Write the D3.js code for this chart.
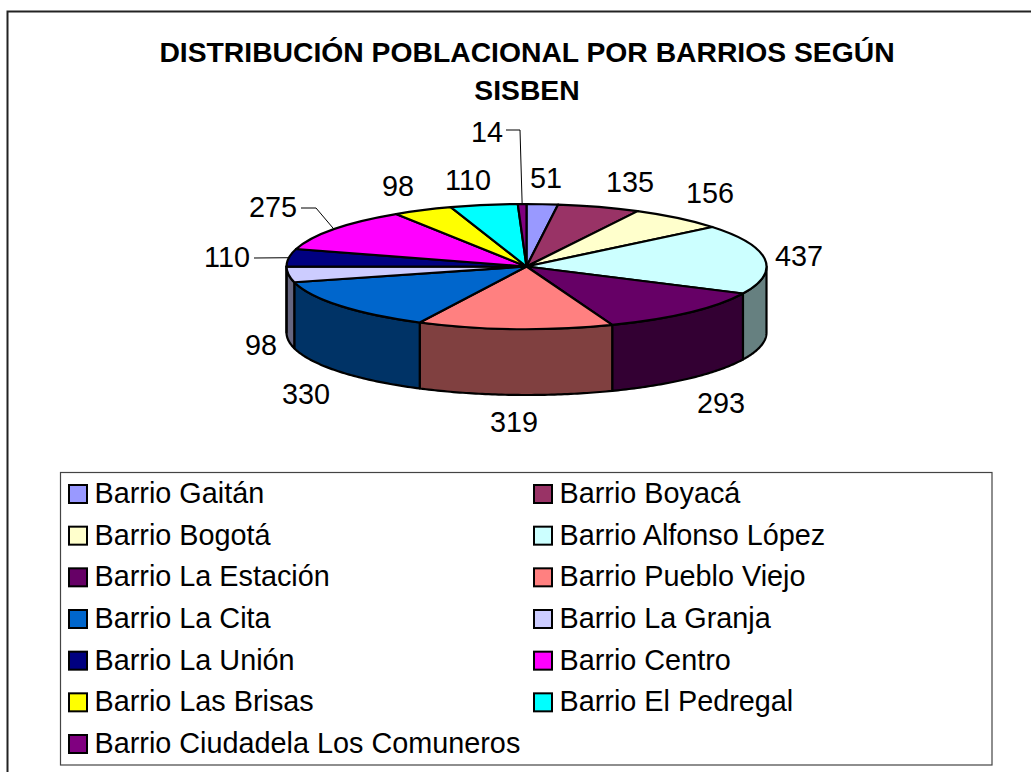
<!DOCTYPE html>
<html><head><meta charset="utf-8">
<script src="https://cdn.jsdelivr.net/npm/d3@7/dist/d3.min.js"></script>
<style>html,body{margin:0;padding:0;background:#fff;overflow:hidden}svg{display:block}text{font-family:"Liberation Sans",Arial,sans-serif;fill:#000}</style>
</head><body><svg id="c" width="1031" height="772"></svg>
<script>
const titleLines = ["DISTRIBUCIÓN POBLACIONAL POR BARRIOS SEGÚN", "SISBEN"];
const categories = ["Barrio Gaitán","Barrio Boyacá","Barrio Bogotá","Barrio Alfonso López","Barrio La Estación","Barrio Pueblo Viejo","Barrio La Cita","Barrio La Granja","Barrio La Unión","Barrio Centro","Barrio Las Brisas","Barrio El Pedregal","Barrio Ciudadela Los Comuneros"];
const values = [51,135,156,437,293,319,330,98,110,275,98,110,14];
const colors = ["#9999FF","#993366","#FFFFCC","#CCFFFF","#660066","#FF8080","#0066CC","#CCCCFF","#000080","#FF00FF","#FFFF00","#00FFFF","#800080"];

// layout (not data)
const W = 1031, H = 772;
const cx = 526.5, cy = 266.5, rx = 240, ry = 62.5, depth = 66;
const labelCenters = [[546,178],[630,182],[710,193],[799,256],[721,403],[514,422],[306,394],[261,345],[227,257],[273,207],[398,186],[468,180],[487,132]];
const leaderElbows = {8:[[254,258]], 9:[[301,208],[316,208]], 12:[[506,130],[520,130]]};

const svg = d3.select("#c");
// frame
svg.append("path").attr("d",`M7.5,${H}V11.5H${W}`).attr("fill","none").attr("stroke","#222").attr("stroke-width",2);

// title
svg.append("g").selectAll("text").data(titleLines).join("text")
  .attr("x",527).attr("y",(d,i)=>62+i*38).attr("text-anchor","middle")
  .attr("font-size",28.3).attr("font-weight","bold").text(d=>d);

// pie
const arcs = d3.pie().sort(null).value(d=>d)(values);
const px = d3.scaleLinear().domain([-1,1]).range([cx-rx,cx+rx]);
const py = d3.scaleLinear().domain([-1,1]).range([cy-ry,cy+ry]);
const rim = a => [px(Math.sin(a)), py(-Math.cos(a))];

const chart = svg.append("g");
// side walls: visible part of each slice lies between 90° and 270°
const line = d3.line();
const walls = [];
arcs.forEach((d,i)=>{
  const a0 = Math.max(d.startAngle,Math.PI/2), a1 = Math.min(d.endAngle,Math.PI*1.5);
  if (a1>a0) walls.push({a0,a1,i});
});
chart.append("g").selectAll("path").data(walls).join("path")
  .attr("d",w=>{
    const n = 60;
    const top = d3.range(n+1).map(k=>rim(w.a0+(w.a1-w.a0)*k/n));
    const bot = top.slice().reverse().map(p=>[p[0],p[1]+depth]);
    return line(top.concat(bot))+"Z";
  })
  .attr("fill",w=>{const c=d3.rgb(colors[w.i]);return d3.rgb(c.r*.5,c.g*.5,c.b*.5).formatHex();})
  .attr("stroke","#000").attr("stroke-width",2.2).attr("stroke-linejoin","round");

// top face
const arcGen = d3.arc().innerRadius(0).outerRadius(rx);
chart.append("g").attr("transform",`translate(${cx},${cy}) scale(1,${ry/rx})`)
  .selectAll("path").data(arcs).join("path")
  .attr("d",arcGen).attr("fill",(d,i)=>colors[i])
  .attr("stroke","#000").attr("stroke-width",2.2).attr("stroke-linejoin","round")
  .attr("vector-effect","non-scaling-stroke");

// leaders
Object.entries(leaderElbows).forEach(([k,pts])=>{
  const a = arcs[+k]; const m = (a.startAngle+a.endAngle)/2;
  svg.append("path").attr("d",line(pts.concat([rim(m)])))
    .attr("fill","none").attr("stroke","#000").attr("stroke-width",1);
});

// data labels
svg.append("g").selectAll("text").data(values).join("text")
  .attr("x",(d,i)=>labelCenters[i][0]).attr("y",(d,i)=>labelCenters[i][1]+10)
  .attr("text-anchor","middle").attr("font-size",28.8).text(d=>d);

// legend
const lg = svg.append("g");
lg.append("rect").attr("x",60.5).attr("y",472.5).attr("width",931.5).attr("height",292.5)
  .attr("fill","#fff").attr("stroke","#444").attr("stroke-width",1.2);
const colX = d3.scalePoint().domain([0,1]).range([69,534]);
const rowY = d3.scalePoint().domain(d3.range(7)).range([485,735]);
const item = lg.selectAll("g").data(categories).join("g")
  .attr("transform",(d,i)=>`translate(${colX(i%2)},${rowY(Math.floor(i/2))})`);
item.append("rect").attr("width",18).attr("height",18)
  .attr("fill",(d,i)=>colors[i]).attr("stroke","#000").attr("stroke-width",2);
item.append("text").attr("x",25.5).attr("y",18).attr("font-size",28.8).text(d=>d);
</script></body></html>
